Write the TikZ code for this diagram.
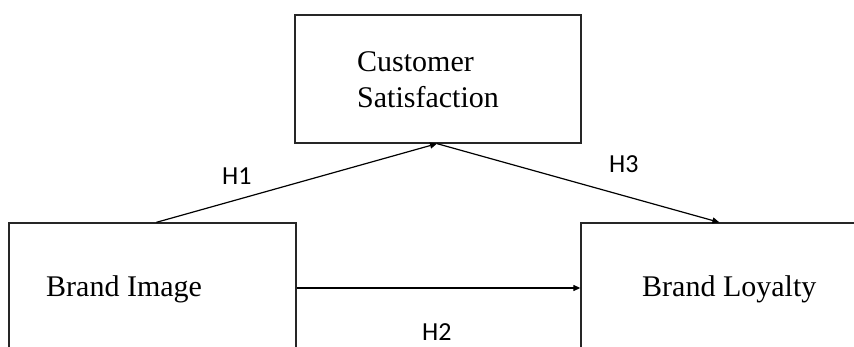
\documentclass[tikz,border=0pt]{standalone}
\usepackage{fontspec}
\setmainfont{Liberation Serif}
\newfontfamily\hfont{Carlito}
\usetikzlibrary{arrows.meta,calc}
\begin{document}
\begin{tikzpicture}[x=1pt,y=1pt,
  boxst/.style={draw=black!85,line width=1.3pt,rectangle,inner sep=0pt},
  txt/.style={inner sep=0pt,anchor=base west,font=\fontsize{30}{36}\selectfont},
  hyp/.style={inner sep=0pt,anchor=base west,font=\hfont\fontsize{26}{30}\selectfont},
  arr/.style={line width=1.2pt,-{Triangle[length=7pt,width=6pt]}}]
\useasboundingbox (0,0) rectangle (854,-347);
\clip (0,0) rectangle (854,-347);
\node[boxst,minimum width=286pt,minimum height=128pt] (cs) at (438,-79) {};
\node[boxst,minimum width=287pt,minimum height=130pt] (bi) at (152.5,-288) {};
\node[boxst,minimum width=330pt,minimum height=130pt] (bl) at (746,-288) {};
\node[txt] (t1) at (357,-72) {Customer};
\node[txt] (t2) at (357,-108) {Satisfaction};
\node[txt] (t3) at (46,-297) {Brand Image};
\node[txt] (t4) at (642,-297) {Brand Loyalty};
\draw[arr] ([xshift=148pt]bi.north west) -- ([xshift=-1pt]cs.south);
\draw[arr] ([xshift=-1pt]cs.south) -- ([xshift=139pt]bl.north west);
\draw[arr] (bi.east) -- (bl.west);
\node[hyp] (h1) at (222,-185) {H1};
\node[hyp] (h3) at (609,-173) {H3};
\node[hyp] (h2) at (422,-341) {H2};
\end{tikzpicture}
\end{document}
